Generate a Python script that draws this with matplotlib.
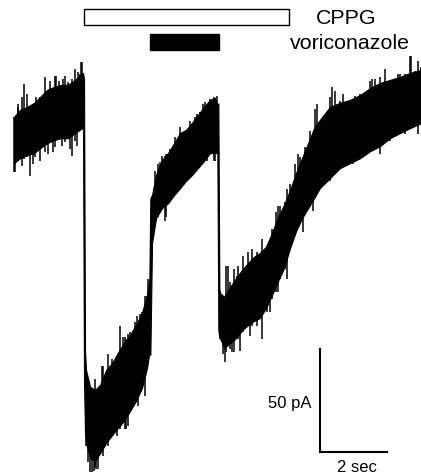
import numpy as np
import matplotlib
matplotlib.use("Agg")
import matplotlib.pyplot as plt
from matplotlib.patches import Rectangle

# whole-cell current trace: time in s, current in pA (0 = start of baseline)
# core of the noisy band (upper / lower edge) ...
core_t = [0.00, 0.18, 0.39, 0.60, 0.78, 0.99, 1.19, 1.40, 1.61, 1.82, 2.04, 2.06, 2.09,
          2.12, 2.15, 2.27, 2.42, 2.57, 2.75, 2.93, 3.10, 3.28, 3.46, 3.64, 3.82, 3.97, 4.04, 4.07,
          4.12, 4.24, 4.42, 4.60, 4.78, 4.96, 5.13, 5.31, 5.49, 5.67, 5.85, 6.00, 6.07, 6.10, 6.13,
          6.15, 6.27, 6.45, 6.63, 6.81, 6.99, 7.16, 7.34, 7.52, 7.70, 7.88, 8.06, 8.24, 8.42, 8.60,
          8.78, 8.96, 9.13, 9.43, 9.73, 10.03, 10.33, 10.63, 10.93, 11.22, 11.52, 11.82, 12.15]
core_hi = [3.5, 6.9, 8.3, 10.3, 13.2, 16.6, 18.0, 19.0, 19.0, 21.4, 24.8, 24.8, 22.0,
           -110.0, -119.4, -127.6, -129.1, -126.6, -119.4, -116.0, -111.1, -106.2, -102.4, -97.5, -91.7,
           -82.9, -75.7, -36.0,
           -34.4, -24.7, -17.4, -14.0, -9.2, -4.3, -2.9, 0.5, 4.4, 8.3, 11.7, 12.7, 9.3, 10.0, -80.0,
           -82.0, -83.9, -79.1, -74.7, -70.8, -67.4, -64.5, -62.6, -59.6, -52.9, -45.1, -39.3, -32.0,
           -23.7, -16.4, -9.2, -1.9, 2.0, 8.3, 10.3, 11.7, 14.1, 17.5, 20.0, 21.4, 22.9, 24.8, 26.3]
core_lo = [-19.0, -16.6, -15.1, -14.1, -11.7, -9.3, -7.8, -6.9, -6.9, -4.4, -2.0, -2.0, -125.0,
           -150.0, -154.9, -162.2, -163.6, -159.8, -154.9, -151.0, -147.6, -144.2, -139.4, -134.5, -128.2,
           -118.5, -111.2, -112.0,
           -57.8, -45.7, -40.8, -38.4, -34.5, -31.1, -27.7, -24.8, -21.4, -18.0, -14.1, -14.1, -14.1,
           -100.0, -104.0,
           -103.9, -108.8, -106.4, -103.9, -100.1, -97.6, -95.7, -94.2, -89.4, -83.1, -76.3, -70.0, -60.2,
           -52.0, -45.7, -40.8, -36.0, -31.1, -26.3, -21.4, -19.0, -16.6, -13.2, -10.7, -6.9, -4.4, -2.0, 0.4]

# ... and the noise spikes sticking out of it (tip positions)
up_t = [0.00, 0.12, 0.13, 0.24, 0.30, 0.39, 0.48, 0.63, 0.66, 0.78, 0.93, 1.07, 1.22, 1.25, 1.34, 1.37, 1.46,
        1.52, 1.61, 1.67, 1.73, 1.82, 1.91, 1.97, 2.00, 2.03,
        2.21, 2.33, 2.42, 2.44, 2.57, 2.63, 2.66, 2.81, 2.93, 3.07, 3.16, 3.25, 3.31, 3.34, 3.40, 3.46, 3.61,
        3.67, 3.76, 3.82, 3.91, 3.97, 4.00,
        4.21, 4.30, 4.36, 4.42, 4.51, 4.54, 4.66, 4.75, 4.81, 4.96, 5.10, 5.25, 5.40, 5.46, 5.55, 5.64, 5.70,
        5.85, 5.97, 6.06,
        6.24, 6.30, 6.33, 6.39, 6.45, 6.57, 6.66, 6.69, 6.84, 6.99, 7.10, 7.25, 7.40, 7.55, 7.70, 7.82, 7.88,
        7.94, 8.09, 8.15, 8.24, 8.39, 8.48, 8.54, 8.69, 8.84, 8.99, 9.04, 9.13, 9.28, 9.43, 9.49, 9.58, 9.73,
        9.82, 9.88, 10.03, 10.18, 10.33, 10.48, 10.63, 10.69, 10.78, 10.93, 11.07, 11.22, 11.37, 11.46, 11.52,
        11.67, 11.82, 11.85, 11.97, 12.06, 12.15]
up_pA = [3.4, 8.3, 9.7, 13.1, 19.4, 14.6, 7.3, 9.7, 13.1, 13.1, 22.8, 20.9, 23.3, 23.3, 20.9, 18.4, 21.8,
         23.3, 20.4, 19.4, 21.8, 26.7, 25.2, 24.3, 30.1, 30.1,
         -127.2, -128.6, -123.8, -128.6, -130.1, -117.5, -117.5, -111.6, -114.1, -114.1, -98.1, -103.4, -103.4,
         -104.4, -101.9, -101.0, -96.1, -93.2, -92.2, -91.3, -83.5, -83.5, -75.2,
         -22.8, -19.4, -18.4, -15.5, -15.5, -14.6, -12.1, -13.1, -6.3, -1.5, -3.4, 1.5, 3.4, 4.9, 5.8, 9.7, 10.7,
         12.1, 13.1, 13.6,
         -84.0, -84.9, -68.9, -68.9, -76.7, -70.4, -73.8, -68.9, -64.1, -62.1, -60.7, -62.1, -55.8, -59.2, -51.0,
         -42.7, -39.8, -39.8, -37.9, -31.6, -29.1, -19.4, -14.6, -16.0, -11.2, -3.4, 7.3, 9.7, 1.5, 3.4, 13.1,
         18.0, 16.0, 11.2, 14.6, 9.7, 11.2, 13.6, 14.6, 13.1, 20.9, 21.8, 21.8, 22.8, 26.7, 20.9, 19.4, 24.3,
         24.3, 24.3, 33.0, 33.0, 25.7, 30.6, 27.7]
dn_t = [0.00, 0.03, 0.12, 0.24, 0.30, 0.39, 0.48, 0.57, 0.63, 0.78, 0.93, 1.01, 1.07, 1.16, 1.22, 1.37, 1.43,
        1.52, 1.67, 1.73, 1.82, 1.88,
        2.15, 2.21, 2.27, 2.33, 2.39, 2.42, 2.45, 2.51, 2.57, 2.66, 2.81, 2.93, 3.07, 3.16, 3.31, 3.34, 3.40,
        3.46, 3.61, 3.70, 3.76, 3.91, 4.00,
        4.15, 4.21, 4.30, 4.42, 4.51, 4.54, 4.66, 4.75, 4.81, 4.96, 5.04, 5.10, 5.25, 5.34, 5.40, 5.55, 5.70,
        5.76, 5.97, 6.00,
        6.24, 6.30, 6.33, 6.45, 6.51, 6.57, 6.69, 6.75, 6.84, 7.04, 7.10, 7.25, 7.40, 7.55, 7.64, 7.70, 7.82,
        7.88, 7.94, 8.09, 8.15, 8.24, 8.39, 8.54, 8.63, 8.69, 8.84, 8.93, 8.99, 9.13, 9.34, 9.43, 9.58, 9.67,
        9.73, 9.88, 10.03, 10.12, 10.18, 10.33, 10.48, 10.63, 10.78, 10.93, 11.07, 11.22, 11.37, 11.52, 11.67,
        11.82, 11.97, 12.06, 12.15]
dn_pA = [-23.3, -23.3, -14.6, -20.4, -17.0, -16.0, -25.2, -19.4, -16.0, -18.0, -13.6, -14.6, -8.7, -13.6,
         -11.2, -7.3, -10.7, -8.7, -12.1, -15.5, -8.3, -10.7,
         -156.3, -164.1, -168.9, -168.9, -168.4, -166.5, -167.5, -167.5, -159.2, -161.2, -156.3, -149.5, -151.4,
         -148.0, -148.0, -148.0, -146.6, -136.9, -132.0, -136.9, -127.2, -132.0, -115.5,
         -54.9, -45.1, -45.1, -40.3, -47.1, -45.1, -34.0, -34.0, -32.5, -29.1, -29.1, -24.3, -25.7, -24.3, -19.4,
         -18.0, -13.1, -18.0, -18.0, -18.0,
         -111.6, -115.5, -110.7, -109.2, -110.7, -110.7, -104.4, -110.2, -101.0, -102.9, -98.1, -98.1, -104.4,
         -91.3, -91.3, -84.9, -81.5, -81.5, -75.2, -70.4, -75.2, -59.2, -53.4, -48.5, -52.4, -43.7, -40.3, -42.2,
         -35.4, -30.6, -27.7, -27.7, -24.3, -20.9, -20.9, -19.9, -19.4, -19.4, -18.4, -14.6, -14.6, -13.1, -11.2,
         -14.6, -7.3, -8.3, -5.3, -4.9, -4.9, -1.5, 0.0, -4.9, 1.5]

# drug applications (s)
cppg_on = [2.09, 8.21]
vori_on = [4.06, 6.12]

# scale bar
bar_pA = 50
bar_sec = 2

plt.rcParams["font.family"] = ["Liberation Sans", "DejaVu Sans"]

fig = plt.figure(figsize=(4.21, 4.77), dpi=100)
ax = fig.add_axes([0, 0, 1, 1])
ax.set_xlim(-0.418, 12.149)
ax.set_ylim(-170.9, 60.7)
ax.axis("off")

ax.fill_between(core_t, core_lo, core_hi, color="black", lw=0.8, edgecolor="black")
mid = (np.array(core_hi) + np.array(core_lo)) / 2
ax.vlines(up_t, np.interp(up_t, core_t, mid), up_pA, color="black", lw=1.1)
ax.vlines(dn_t, np.interp(dn_t, core_t, mid), dn_pA, color="black", lw=1.1)

# application bars
ax.add_patch(Rectangle((cppg_on[0], 48.1), cppg_on[1] - cppg_on[0], 7.7,
                       facecolor="white", edgecolor="black", lw=1.0))
ax.add_patch(Rectangle((vori_on[0], 35.9), vori_on[1] - vori_on[0], 7.8,
                       facecolor="black", edgecolor="black", lw=1.0))
ax.text(9.01, 51.9, "CPPG", fontsize=15.4, ha="left", va="center")
ax.text(8.24, 39.8, "voriconazole", fontsize=15.4, ha="left", va="center")

# scale bar
x0, y0 = 9.134, -159.2
ax.plot([x0, x0, x0 + bar_sec], [y0 + bar_pA, y0, y0], color="black", lw=1.5, solid_joinstyle="miter")
ax.text(x0 - 0.24, y0 + 23.8, f"{bar_pA} pA", fontsize=12, ha="right", va="center")
ax.text(x0 + bar_sec / 2 + 0.1, -166.5, f"{bar_sec} sec", fontsize=12, ha="center", va="center")

fig.savefig("out.png", dpi=100)
